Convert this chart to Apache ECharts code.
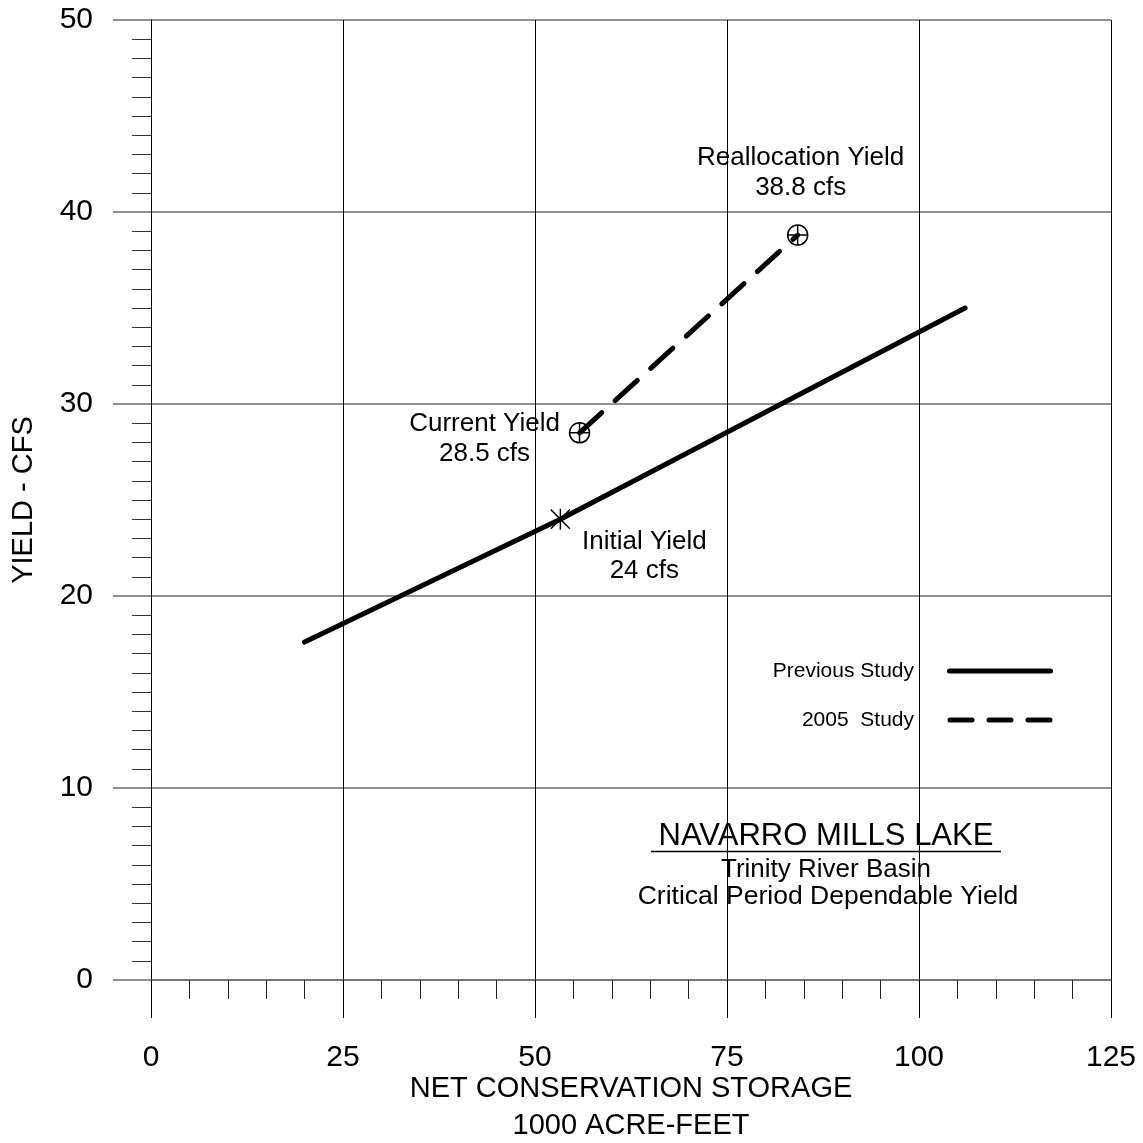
<!DOCTYPE html>
<html><head><meta charset="utf-8">
<script src="https://cdn.jsdelivr.net/npm/echarts@6/dist/echarts.min.js"></script>
<style>html,body{margin:0;padding:0;background:#fff}#c{width:1143px;height:1143px}</style>
</head><body><div id="c"></div><script>
const FONT = '"Liberation Sans", Arial, sans-serif';
// Data
const xTickLabels = ['0','25','50','75','100','125'];
const yTickLabels = ['0','10','20','30','40','50'];
const prevStorage = [20, 53.3, 106];
const prevYield = [17.6, 24, 35];
const studyStorage = [55.8, 84.2];
const studyYield = [28.5, 38.8];
const pointNames = ['Initial Yield', 'Current Yield', 'Reallocation Yield'];
const pointStorage = [53.3, 55.8, 84.2];
const pointYield = [24, 28.5, 38.8];
const pointText = ['24 cfs', '28.5 cfs', '38.8 cfs'];

const ASTER = 'path://M-1,-1L1,1M1,-1L-1,1M0,-1.1L0,1.1';
const CPLUS = 'path://M-10,0A10,10,0,1,1,10,0A10,10,0,1,1,-10,0ZM-10,0L10,0M0,-10L0,10';
const pointSymbols = [ASTER, CPLUS, CPLUS];
const pointSizes = [[19,21],20,20];
const labelOffsets = [[84,37],[-95,6],[3,-62]];

const SOLID_ICON = 'path://M2.5,0H103.5A2.5,2.5,0,0,1,103.5,5H2.5A2.5,2.5,0,0,1,2.5,0Z';
const DASH_ICON = 'path://M2,0H24A2,2,0,0,1,24,5H2A2,2,0,0,1,2,0ZM41,0H63A2,2,0,0,1,63,5H41A2,2,0,0,1,41,0ZM80,0H102A2,2,0,0,1,102,5H80A2,2,0,0,1,80,0Z';

const chart = echarts.init(document.getElementById('c'), null, {renderer:'canvas'});
const option = {
  animation: false,
  backgroundColor: '#fff',
  textStyle: {fontFamily: FONT},
  grid: {left: 151, top: 20, width: 960, height: 960, containLabel: false, outerBoundsMode: 'none'},
  xAxis: {
    type: 'value', min: 0, max: 125, interval: 25,
    name: 'NET CONSERVATION STORAGE\n1000 ACRE-FEET',
    nameLocation: 'middle', nameGap: 90, nameMoveOverlap: false,
    nameTextStyle: {fontSize: 29, color: '#000', fontFamily: FONT, lineHeight: 37},
    axisLine: {show: true, lineStyle: {color: '#6e6e6e', width: 1.5}},
    axisTick: {show: true, length: 38, lineStyle: {color: '#000', width: 1}},
    minorTick: {show: true, splitNumber: 5, length: 19, lineStyle: {color: '#222', width: 1}},
    splitLine: {show: true, lineStyle: {color: '#000', width: 1}},
    axisLabel: {margin: 63, fontSize: 30, color: '#000', fontFamily: FONT,
      formatter: (v) => xTickLabels[Math.round(v/25)]}
  },
  yAxis: {
    type: 'value', min: 0, max: 50, interval: 10,
    name: 'YIELD - CFS', nameLocation: 'middle', nameGap: 113,
    nameTextStyle: {fontSize: 29, color: '#000', fontFamily: FONT},
    axisLine: {show: true, lineStyle: {color: '#000', width: 1}},
    axisTick: {show: true, length: 38, lineStyle: {color: '#6e6e6e', width: 1.5}},
    minorTick: {show: true, splitNumber: 10, length: 19, lineStyle: {color: '#333', width: 1}},
    splitLine: {show: true, lineStyle: {color: '#6e6e6e', width: 1.5}},
    axisLabel: {margin: 58, fontSize: 30, color: '#000', fontFamily: FONT,
      formatter: (v) => yTickLabels[Math.round(v/10)]}
  },
  legend: {
    orient: 'vertical', right: 85, top: 654, align: 'right',
    itemWidth: 106, itemHeight: 5, itemGap: 25,
    itemStyle: {color: '#000', borderWidth: 0},
    textStyle: {fontSize: 21, color: '#000', fontFamily: FONT, lineHeight: 24, padding: [0, 28, 0, 0]},
    data: [
      {name: 'Previous Study', icon: SOLID_ICON},
      {name: '2005  Study', icon: DASH_ICON}
    ],
    selectedMode: false
  },
  series: [
    {
      name: 'Previous Study', type: 'line', symbol: 'none', silent: true,
      lineStyle: {color: '#000', width: 5, cap: 'round'},
      itemStyle: {color: '#000'},
      data: prevStorage.map((x, i) => [x, prevYield[i]]), z: 3
    },
    {
      name: '2005  Study', type: 'line', symbol: 'none', silent: true,
      lineStyle: {color: '#000', width: 5, type: [30, 18], cap: 'round'},
      itemStyle: {color: '#000'},
      data: studyStorage.map((x, i) => [x, studyYield[i]]), z: 3
    },
    {
      name: 'Points', type: 'scatter', silent: true, z: 5,
      itemStyle: {color: 'rgba(0,0,0,0)', borderColor: '#000', borderWidth: 1.5, opacity: 1},
      label: {show: true, position: 'inside', fontSize: 26, color: '#000', fontFamily: FONT,
        opacity: 1, textBorderWidth: 0,
        lineHeight: 29.5, align: 'center', verticalAlign: 'middle',
        formatter: (p) => pointNames[p.dataIndex] + '\n' + pointText[p.dataIndex]},
      data: pointStorage.map((x, i) => ({
        value: [x, pointYield[i]],
        symbol: pointSymbols[i], symbolSize: pointSizes[i],
        label: {offset: labelOffsets[i]}
      }))
    }
  ],
  graphic: [
    {type: 'text', x: 826, y: 836, style: {text: 'NAVARRO MILLS LAKE', fill: '#000',
      font: '31px ' + FONT, align: 'center', verticalAlign: 'middle'}},
    {type: 'line', shape: {x1: 651, y1: 851.5, x2: 1001, y2: 851.5}, style: {stroke: '#000', lineWidth: 1.5}},
    {type: 'text', x: 826, y: 870, style: {text: 'Trinity River Basin', fill: '#000',
      font: '26px ' + FONT, align: 'center', verticalAlign: 'middle'}},
    {type: 'text', x: 828, y: 897, style: {text: 'Critical Period Dependable Yield', fill: '#000',
      font: '26.5px ' + FONT, align: 'center', verticalAlign: 'middle'}}
  ]
};
chart.setOption(option);
</script></body></html>
